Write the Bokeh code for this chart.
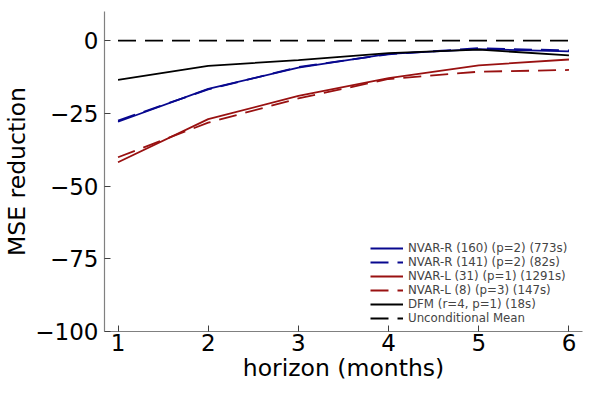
from bokeh.plotting import figure
from bokeh.models import Range1d, FixedTicker, Legend, LegendItem
from bokeh.embed import file_html
from bokeh.resources import INLINE

horizon = [1, 2, 3, 4, 5, 6]
nvar_r_160 = [-27.9, -16.6, -9.3, -4.6, -2.9, -3.7]
nvar_r_141 = [-27.5, -16.8, -9.1, -4.7, -2.6, -3.4]
nvar_l_31 = [-41.8, -27.0, -19.0, -12.9, -8.5, -6.5]
nvar_l_8 = [-40.1, -28.2, -19.9, -13.2, -10.7, -10.1]
dfm = [-13.5, -8.7, -6.7, -4.3, -3.1, -5.1]
uncond = [0, 0, 0, 0, 0, 0]

labels = ["NVAR-R (160) (p=2) (773s)", "NVAR-R (141) (p=2) (82s)",
          "NVAR-L (31) (p=1) (1291s)", "NVAR-L (8) (p=3) (147s)",
          "DFM (r=4, p=1) (18s)", "Unconditional Mean"]
y_ticks = [0, -25, -50, -75, -100]
y_tick_labels = ["0", "\u221225", "\u221250", "\u221275", "\u2212100"]
x_ticks = [1, 2, 3, 4, 5, 6]

BLUE = "#08088f"
RED = "#991111"
BLACK = "#000000"
FONT = "DejaVu Sans"

p = figure(width=584, height=384, output_backend="svg", toolbar_location=None,
           x_range=Range1d(0.85, 6.15), y_range=Range1d(-100, 10),
           min_border_left=103, min_border_right=2, min_border_top=11, min_border_bottom=0)
p.outline_line_color = None
p.xgrid.visible = False
p.ygrid.visible = False
p.background_fill_color = "white"

series = [
    (nvar_r_160, BLUE, "solid"),
    (nvar_r_141, BLUE, "18 9"),
    (nvar_l_31, RED, "solid"),
    (nvar_l_8, RED, "18 9"),
    (dfm, BLACK, "solid"),
    (uncond, BLACK, "18 9"),
]
items = []
for (vals, col, dash), lab in zip(series, labels):
    r = p.line(horizon, vals, line_color=col, line_width=1.8, line_dash=dash)
    items.append(LegendItem(label=lab, renderers=[r]))

legend = Legend(items=items, location=(264, 4), orientation="vertical")
legend.label_text_font = FONT
legend.label_text_font_size = "11.8px"
legend.label_height = 12
legend.glyph_height = 12
legend.glyph_width = 33
legend.spacing = -2
legend.padding = 2
legend.margin = 0
legend.label_standoff = 5
legend.border_line_alpha = 0
legend.background_fill_alpha = 0
p.add_layout(legend, "center")

for ax in (p.xaxis[0], p.yaxis[0]):
    ax.axis_line_color = "#808080"
    ax.axis_line_width = 1.2
    ax.major_tick_in = 6
    ax.major_tick_out = 0
    ax.minor_tick_in = 0
    ax.minor_tick_out = 0
    ax.major_tick_line_color = "#404040"
    ax.major_label_text_font = FONT
    ax.major_label_text_font_size = "23px"
    ax.major_label_text_color = "black"
    ax.axis_label_text_font = FONT
    ax.axis_label_text_font_size = "23.5px"
    ax.axis_label_text_font_style = "normal"
    ax.axis_label_text_color = "black"

p.xaxis[0].ticker = FixedTicker(ticks=x_ticks)
p.yaxis[0].ticker = FixedTicker(ticks=y_ticks)
p.yaxis[0].major_label_overrides = {t: s for t, s in zip(y_ticks, y_tick_labels)}
p.xaxis[0].axis_label = "horizon (months)"
p.yaxis[0].axis_label = "MSE reduction"
p.xaxis[0].major_label_standoff = 2
p.yaxis[0].major_label_standoff = 6
p.xaxis[0].axis_label_standoff = 0
p.yaxis[0].axis_label_standoff = 1

open("out.html", "w").write(file_html(p, INLINE))
